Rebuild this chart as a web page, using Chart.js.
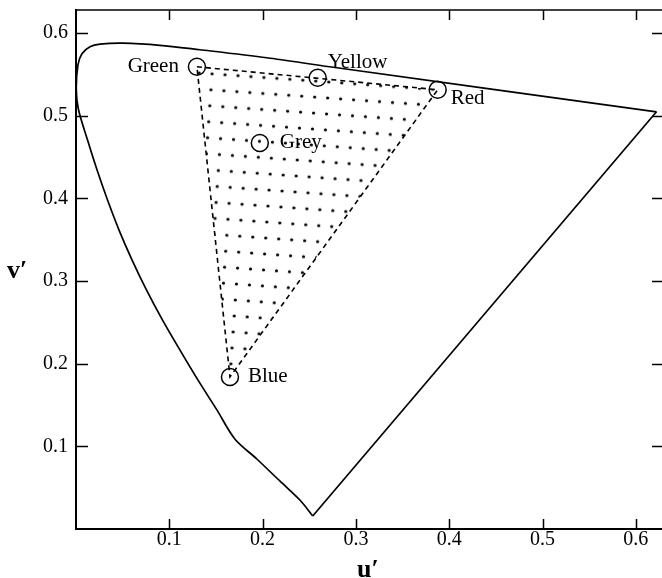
<!DOCTYPE html>
<html>
<head>
<meta charset="utf-8">
<script src="https://cdn.jsdelivr.net/npm/chart.js@4.4.1/dist/chart.umd.min.js"></script>
<style>
  body { margin: 0; background: #fff; }
</style>
</head>
<body>
<canvas id="uv-chart" width="662" height="578"></canvas>
<script>
// spectral locus (red end -> top -> left side -> violet end)
var locusU = [0.6221, 0.2719, 0.2045, 0.1328, 0.0899, 0.0503, 0.0257, 0.0150, 0.0064, 0.0021, 0.0003,
              0.0027, 0.0123, 0.0225, 0.0337, 0.0460, 0.0600, 0.0755, 0.0926, 0.1113, 0.1306,
              0.1510, 0.1702, 0.1938, 0.2184, 0.2409, 0.2537];
var locusV = [0.5048, 0.5593, 0.5702, 0.5799, 0.5853, 0.5878, 0.5866, 0.5835, 0.5751, 0.5617, 0.5315,
              0.5073, 0.4709, 0.4346, 0.3983, 0.3620, 0.3257, 0.2893, 0.2530, 0.2167, 0.1804,
              0.1441, 0.1090, 0.0847, 0.0581, 0.0339, 0.0157];
// line of purples
var purpleU = [0.2537, 0.6221];
var purpleV = [0.0157, 0.5048];

// marked colours
var names = ['Green', 'Yellow', 'Red', 'Grey', 'Blue'];
var primU = [0.1296, 0.259, 0.3876, 0.197, 0.165];
var primV = [0.5593, 0.546, 0.5315, 0.467, 0.184];

// gamut triangle: Green -> Red -> Blue -> Green
var triNames = ['Green', 'Red', 'Blue', 'Green'];

var xTicks = [0.1, 0.2, 0.3, 0.4, 0.5, 0.6];
var yTicks = [0.1, 0.2, 0.3, 0.4, 0.5, 0.6];
var xMax = 0.628, yMax = 0.628;

// label placement (style only)
var labelPos = {
  Green:  { align: 'right', dx: -18, dy: 5 },
  Yellow: { align: 'left',  dx: 10,  dy: -10 },
  Red:    { align: 'left',  dx: 13,  dy: 14 },
  Grey:   { align: 'left',  dx: 20,  dy: 5 },
  Blue:   { align: 'left',  dx: 18,  dy: 5 }
};

function pts(us, vs) {
  var out = [];
  for (var i = 0; i < us.length; i++) out.push({ x: us[i], y: vs[i] });
  return out;
}

var triangle = triNames.map(function (n) {
  var i = names.indexOf(n);
  return { x: primU[i], y: primV[i] };
});

// dotted fill pattern
function dotPattern() {
  var c = document.createElement('canvas');
  c.width = 13; c.height = 16;
  var g = c.getContext('2d');
  g.fillStyle = '#000';
  g.beginPath();
  g.arc(6.5, 8, 1.6, 0, Math.PI * 2);
  g.fill();
  var p = document.getElementById('uv-chart').getContext('2d').createPattern(c, 'repeat');
  p.setTransform(new DOMMatrix().translate(2, 3).rotate(4));
  return p;
}

var serif = "'Liberation Serif', 'Times New Roman', serif";

function noPad(s) {
  s.paddingLeft = 0; s.paddingRight = 0; s.paddingTop = 0; s.paddingBottom = 0;
}

var extras = {
  id: 'extras',
  afterDraw: function (chart) {
    var ctx = chart.ctx, a = chart.chartArea;
    var xs = chart.scales.x, ys = chart.scales.y;
    ctx.save();
    ctx.strokeStyle = '#000';
    // top frame line
    ctx.lineWidth = 1.5;
    ctx.beginPath();
    ctx.moveTo(a.left, a.top); ctx.lineTo(a.right, a.top);
    ctx.stroke();
    // inward ticks on all four sides
    ctx.lineWidth = 1.5;
    xTicks.forEach(function (v) {
      var px = Math.round(xs.getPixelForValue(v)) + 0.5;
      ctx.beginPath();
      ctx.moveTo(px, a.bottom); ctx.lineTo(px, a.bottom - 10);
      ctx.moveTo(px, a.top); ctx.lineTo(px, a.top + 10);
      ctx.stroke();
    });
    yTicks.forEach(function (v) {
      var py = Math.round(ys.getPixelForValue(v)) + 0.5;
      ctx.beginPath();
      ctx.moveTo(a.left, py); ctx.lineTo(a.left + 12, py);
      ctx.moveTo(a.right, py); ctx.lineTo(a.right - 10, py);
      ctx.stroke();
    });
    // point labels
    ctx.fillStyle = '#000';
    ctx.font = '21px ' + serif;
    ctx.textBaseline = 'alphabetic';
    names.forEach(function (n, i) {
      var lp = labelPos[n];
      ctx.textAlign = lp.align;
      ctx.fillText(n, xs.getPixelForValue(primU[i]) + lp.dx, ys.getPixelForValue(primV[i]) + lp.dy);
    });
    // axis titles
    ctx.font = 'bold 26px ' + serif;
    ctx.textAlign = 'left';
    ctx.fillText('u\u2032', 357, 577);
    ctx.fillText('v\u2032', 7, 278);
    ctx.restore();
  }
};

new Chart(document.getElementById('uv-chart'), {
  type: 'scatter',
  data: {
    datasets: [
      {
        label: 'locus',
        data: pts(locusU, locusV),
        showLine: true,
        borderColor: '#000',
        borderWidth: 1.7,
        pointRadius: 0,
        tension: 0.3,
        fill: false
      },
      {
        label: 'purple line',
        data: pts(purpleU, purpleV),
        showLine: true,
        borderColor: '#000',
        borderWidth: 1.7,
        pointRadius: 0,
        fill: false
      },
      {
        label: 'gamut',
        data: triangle,
        showLine: true,
        borderColor: '#000',
        borderWidth: 1.6,
        borderDash: [5, 4],
        backgroundColor: dotPattern(),
        pointRadius: 0,
        fill: 'shape'
      },
      {
        label: 'colours',
        data: pts(primU, primV),
        showLine: false,
        pointStyle: 'circle',
        pointRadius: 8.5,
        pointBorderWidth: 1.5,
        pointBorderColor: '#000',
        pointBackgroundColor: 'rgba(0,0,0,0)'
      }
    ]
  },
  options: {
    responsive: false,
    animation: false,
    events: [],
    layout: { autoPadding: false, padding: { top: 10, right: 0, left: 0, bottom: 0 } },
    plugins: {
      legend: { display: false },
      tooltip: { enabled: false }
    },
    scales: {
      x: {
        type: 'linear',
        min: 0, max: xMax,
        grid: { display: false, drawTicks: false },
        border: { display: true, color: '#000', width: 2 },
        afterBuildTicks: function (s) { s.ticks = xTicks.map(function (v) { return { value: v }; }); },
        afterFit: function (s) { s.height = 49; noPad(s); },
        ticks: {
          color: '#000',
          padding: 1,
          maxRotation: 0,
          font: { family: serif, size: 20, lineHeight: 1 },
          callback: function (v) { return v.toFixed(1); }
        }
      },
      y: {
        type: 'linear',
        min: 0, max: yMax,
        grid: { display: false, drawTicks: false },
        border: { display: true, color: '#000', width: 2 },
        afterBuildTicks: function (s) { s.ticks = yTicks.map(function (v) { return { value: v }; }); },
        afterFit: function (s) { s.width = 76; noPad(s); },
        ticks: {
          color: '#000',
          padding: 8,
          font: { family: serif, size: 20, lineHeight: 1 },
          callback: function (v) { return v.toFixed(1); }
        }
      }
    }
  },
  plugins: [extras]
});
</script>
</body>
</html>
